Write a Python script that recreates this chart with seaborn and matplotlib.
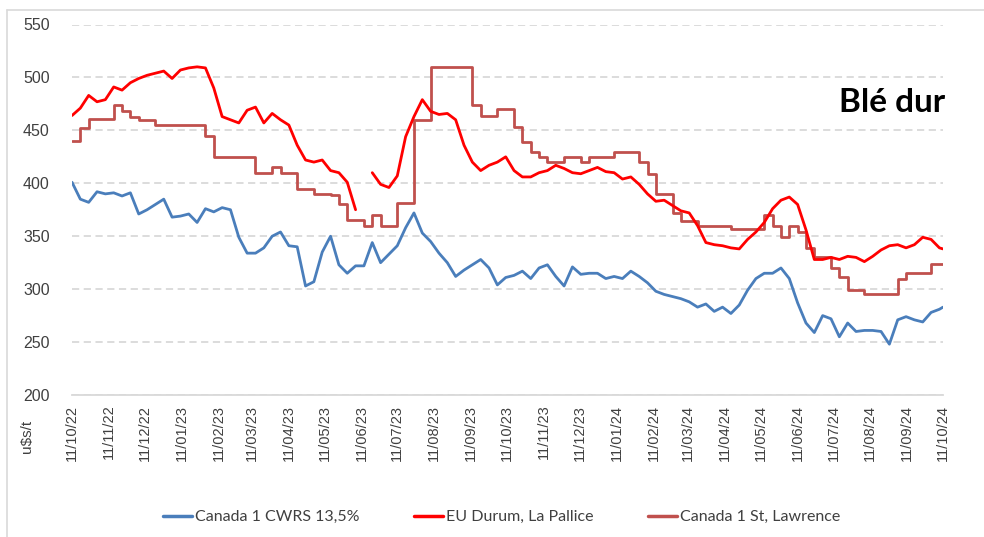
import numpy as np
import pandas as pd
import matplotlib
matplotlib.use("Agg")
import matplotlib.pyplot as plt
import seaborn as sns
from matplotlib.lines import Line2D
from matplotlib import font_manager

# weekly readings, 11/10/22 -> 11/10/24 (last value = 11/10/24)
cwrs = [401, 385, 382, 392, 390, 391, 388, 391, 371, 375, 380, 385, 368, 369, 371, 363, 376, 373, 377, 375,
        349, 334, 334, 339, 350, 354, 341, 340, 303, 307, 335, 350, 323, 315, 322, 322, 344, 325, 333, 341,
        358, 372, 353, 345, 334, 325, 312, 318, 323, 328, 320, 304, 311, 313, 317, 310, 320, 323, 312, 303,
        321, 314, 315, 315, 310, 312, 310, 317, 312, 306, 298, 295, 293, 291, 288, 283, 286, 279, 283, 277,
        285, 299, 310, 315, 315, 320, 310, 287, 268, 259, 275, 272, 255, 268, 260, 261, 261, 260, 248, 271,
        274, 271, 269, 278, 281, 283]
la_pallice = [464, 471, 483, 477, 479, 491, 488, 495, 499, 502, 504, 506, 499, 507, 509, 510, 509, 490, 463, 460,
              457, 469, 472, 457, 466, 460, 455, 436, 422, 420, 422, 412, 410, 401, 375, np.nan, 410, 399, 396, 407,
              444, 463, 479, 468, 465, 466, 460, 436, 420, 412, 417, 420, 425, 412, 406, 406, 410, 412, 417, 414,
              410, 409, 412, 415, 411, 410, 404, 406, 399, 390, 383, 384, 379, 374, 372, 360, 344, 342, 341, 339,
              338, 347, 354, 363, 376, 384, 387, 380, 356, 328, 328, 330, 328, 331, 330, 326, 331, 337, 341, 342,
              339, 342, 349, 347, 339, 338]
st_lawrence = [440, 452, 461, 461, 461, 474, 468, 463, 460, 460, 455, 455, 455, 455, 455, 455, 445, 425, 425, 425,
               425, 425, 410, 410, 415, 410, 410, 395, 395, 390, 390, 389, 380, 365, 365, 360, 370, 360, 360, 381,
               381, 460, 460, 510, 510, 510, 510, 510, 474, 464, 464, 470, 470, 453, 439, 430, 425, 420, 420, 425,
               425, 420, 425, 425, 425, 430, 430, 430, 420, 409, 390, 390, 372, 364, 364, 360, 360, 360, 360, 357,
               357, 357, 357, 370, 360, 349, 360, 354, 339, 330, 330, 320, 311, 299, 299, 295, 295, 295, 295, 310,
               315, 315, 315, 324, 324, 324]
series_names = ["Canada 1 CWRS 13,5%", "EU Durum, La Pallice", "Canada 1 St, Lawrence"]
colors = ["#4a7ebb", "#ff0000", "#c0504d"]

dates = list(pd.date_range("2022-10-11", periods=105, freq="7D")) + [pd.Timestamp("2024-10-11")]
tick_dates = pd.date_range("2022-10-01", "2024-10-01", freq="MS") + pd.Timedelta(days=10)
tick_labels = [d.strftime("%d/%m/%y") for d in tick_dates]
y_ticks = [200, 250, 300, 350, 400, 450, 500, 550]


def pick(fams, default="DejaVu Sans"):
    have = {f.name for f in font_manager.fontManager.ttflist}
    for f in fams:
        if f in have:
            return f
    return default


sns.set_theme(style="white")
plt.rcParams["font.family"] = ["Liberation Sans", "DejaVu Sans"]
legend_font = pick(["Liberation Sans Narrow", "Lato", "Open Sans"])
title_font = pick(["Lato", "Open Sans", "Liberation Sans"])

W, H = 984, 537
fig = plt.figure(figsize=(W / 100, H / 100), dpi=100)
ax = fig.add_axes([72 / W, 1 - 395 / H, (943 - 72) / W, (395 - 24.5) / H])

df = pd.DataFrame({"date": dates, "cwrs": cwrs, "pallice": la_pallice, "lawrence": st_lawrence})


def draw(col, color, **kw):
    # break the line where data are missing
    s = df[["date", col]].copy()
    ok = s[col].notna()
    grp = s[col].isna().cumsum()
    for _, part in s[ok].groupby(grp[ok]):
        sns.lineplot(data=part, x="date", y=col, ax=ax, color=color, lw=2.0, **kw)


draw("lawrence", colors[2], drawstyle="steps-post")
draw("cwrs", colors[0])
draw("pallice", colors[1])

ax.set_xlim(pd.Timestamp("2022-10-11"), pd.Timestamp("2024-10-11"))
ax.set_ylim(200, 550)
ax.set_yticks(y_ticks)
ax.set_xticks(tick_dates)
ax.set_xticklabels(tick_labels, rotation=90, fontsize=10.5, color="#404040")
ax.tick_params(axis="y", length=0, pad=16, labelsize=11.5, labelcolor="#404040")
ax.tick_params(axis="x", length=4, width=1, color="#d9d9d9", pad=3, direction="out")
ax.set_xlabel("")
ax.set_ylabel("")
for sp in ["top", "right", "left"]:
    ax.spines[sp].set_visible(False)
ax.spines["bottom"].set_color("#d9d9d9")
ax.spines["bottom"].set_linewidth(1.3)
ax.yaxis.grid(True, color="#d9d9d9", lw=1.3, linestyle=(0, (4, 2.5)))
ax.xaxis.grid(False)
ax.set_axisbelow(True)

fig.text(27 / W, 1 - 436 / H, "u$s/t", rotation=90, ha="center", va="center",
         fontsize=11, color="#404040")
fig.text(945 / W, 1 - 102 / H, "Blé dur", ha="right", va="center", fontsize=24,
         fontweight="bold", family=title_font, color="black")

handles = [Line2D([0], [0], color=c, lw=2.5) for c in colors]
fig.legend(handles, series_names, loc="center", bbox_to_anchor=(0.51, 1 - 517 / H), ncol=3,
           frameon=False, prop={"family": legend_font, "size": 11.5}, handlelength=1.8,
           handletextpad=0.2, columnspacing=3.4, labelcolor="#404040")

# outer chart frame (top and left edges visible)
fig.add_artist(Line2D([7 / W, 1], [1 - 10 / H, 1 - 10 / H], color="#d9d9d9", lw=1.2, transform=fig.transFigure))
fig.add_artist(Line2D([7 / W, 7 / W], [0, 1 - 10 / H], color="#d9d9d9", lw=1.2, transform=fig.transFigure))

fig.savefig("out.png", dpi=100)
